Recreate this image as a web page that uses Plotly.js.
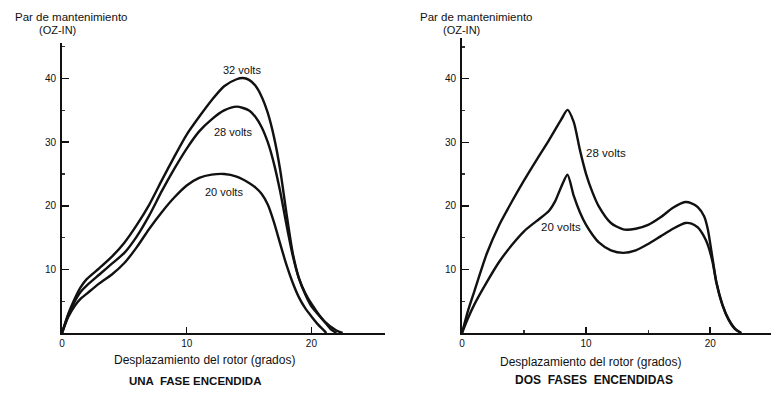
<!DOCTYPE html>
<html>
<head>
<meta charset="utf-8">
<script src="https://cdn.plot.ly/plotly-3.0.1.min.js"></script>
<style>html,body{margin:0;padding:0;background:#fff;}#chart{width:771px;height:394px;}</style>
</head>
<body>
<div id="chart"></div>
<script>
// ---- Data: UNA FASE ENCENDIDA (left) ----
const left32x = [0,0.5,1,1.5,2,3,4,5,6,7,8,9,10,11,12,13,14,14.5,15,15.5,16,16.5,17,17.5,18,18.5,19,19.5,20,21,22,22.5];
const left32y = [0,3.0,5.3,7.2,8.5,10.2,12.0,14.2,17.0,20.2,24.0,27.7,31.2,34.0,36.6,38.8,39.9,40.1,39.8,38.9,37.2,34.6,30.8,25.6,18.8,12.6,8.6,6.3,4.6,1.9,0.4,0];
const left28x = [0,0.5,1,1.5,2,3,4,5,6,7,8,9,10,11,12,13,14,15,15.5,16,16.5,17,17.5,18,18.5,19,19.5,20,21,21.5,22];
const left28y = [0,2.8,4.9,6.5,7.5,9.2,10.9,12.6,15.2,18.5,22.3,25.8,29.0,31.7,33.6,35.0,35.6,35.0,34.0,32.4,30.0,26.6,22.2,17.0,12.2,8.6,6.1,4.2,1.9,0.7,0];
const left20x = [0,0.5,1,1.5,2,3,4,5,6,7,8,9,10,11,12,13,14,15,15.5,16,16.5,17,17.5,18,18.5,19,19.5,20,20.5,21,21.2];
const left20y = [0,2.5,4.2,5.4,6.2,7.8,9.2,11.0,13.5,16.4,19.0,21.3,23.2,24.4,24.9,25.0,24.6,23.6,22.9,21.9,20.2,17.4,14.0,10.7,7.9,5.6,3.9,2.6,1.4,0.4,0];

// ---- Data: DOS FASES ENCENDIDAS (right) ----
const right28x = [0,0.5,1,2,3,4,5,6,7,8,8.5,9,9.5,10,10.5,11,12,13,14,15,16,17,18,18.5,19,19.5,19.8,20.2,20.5,21,21.5,22,22.5];
const right28y = [0,3.6,6.6,12.5,17.0,20.6,24.0,27.2,30.3,33.6,35.1,33.2,28.8,25.0,22.2,20.0,17.3,16.3,16.4,17.0,18.2,19.7,20.6,20.4,19.8,18.4,16.4,11.6,8.0,4.4,2.1,0.7,0];
const right20x = [0,0.5,1,2,3,4,5,6,7,7.5,8,8.5,9,9.5,10,10.5,11,12,13,14,15,16,17,18,18.5,19,19.5,19.8,20.2,20.5,21,21.5,22,22.5];
const right20y = [0,2.4,4.5,8.0,11.2,13.8,16.0,17.6,19.2,20.7,23.0,24.9,21.6,19.0,17.0,15.5,14.3,13.0,12.6,13.0,14.0,15.2,16.4,17.3,17.2,16.6,15.2,13.9,11.1,7.9,4.3,2.0,0.6,0];

const xTickVals = [0,10,20];
const xTickText = ["0","10","20"];
const yTickVals = [10,20,30,40];
const yTickText = ["10","20","30","40"];

const lineStyle = {color:'#111', width:2.4, shape:'spline', smoothing:0.7};
function tr(x,y,xa,ya){return {x:x,y:y,xaxis:xa,yaxis:ya,mode:'lines',line:lineStyle,hoverinfo:'skip',showlegend:false};}

const data = [
  tr(left32x,left32y,'x','y'),
  tr(left28x,left28y,'x','y'),
  tr(left20x,left20y,'x','y'),
  tr(right28x,right28y,'x2','y2'),
  tr(right20x,right20y,'x2','y2')
];

const F = 'Liberation Sans, Arial, sans-serif';
const tickFont = {family:F, size:10, color:'#111'};
function xax(domain, range, minorOn){
  return {domain:domain, range:range, showline:true, linecolor:'#111', linewidth:2,
    showgrid:false, zeroline:false, tickmode:'array', tickvals:xTickVals, ticktext:xTickText,
    ticks:'inside', ticklen:6, tickwidth:1.5, tickcolor:'#111', tickfont:tickFont,
    minor: minorOn ? {tickvals:[5,15], ticks:'inside', ticklen:3, tickwidth:1.2, tickcolor:'#333'} : {ticks:''},
    fixedrange:true};
}
function yax(domain, range, anchor){
  return {domain:domain, range:range, anchor:anchor, showline:true, linecolor:'#111', linewidth:2,
    showgrid:false, zeroline:false, tickmode:'array', tickvals:yTickVals, ticktext:yTickText,
    ticks:'inside', ticklen:7, tickwidth:1.5, tickcolor:'#111', tickfont:tickFont, ticklabelstandoff:2,
    minor:{tickvals:[5,15,25,35,45], ticks:'inside', ticklen:3, tickwidth:1.2, tickcolor:'#333'},
    fixedrange:true};
}

const ann = (text,x,y,xref,yref,size) => ({text:text,x:x,y:y,xref:xref,yref:yref,showarrow:false,
  font:{family:F,size:size||10,color:'#111'},xanchor:'center',yanchor:'middle'});

const layout = {
  width:771, height:394, margin:{l:0,r:0,t:0,b:0}, paper_bgcolor:'#fff', plot_bgcolor:'#fff',
  showlegend:false,
  xaxis: Object.assign(xax([62/771,385/771],[0,25.9],false),{anchor:'y'}),
  yaxis: yax([61/394,351/394],[0,45.6],'x'),
  xaxis2: Object.assign(xax([462/771,1],[0,24.9],true),{anchor:'y2'}),
  yaxis2: yax([61/394,356/394],[0,46.4],'x2'),
  annotations:[
    ann('32 volts',14.4,41.4,'x','y',11),
    ann('28 volts',13.7,31.6,'x','y',11),
    ann('20 volts',13.0,22.2,'x','y',11),
    ann('28 volts',11.6,28.3,'x2','y2',11.5),
    ann('20 volts',8.0,16.7,'x2','y2',11.5),
    ann('Par de mantenimiento',71/771,1-17/394,'paper','paper',11.5),
    ann('(OZ-IN)',57/771,1-30/394,'paper','paper',11),
    ann('Par de mantenimiento',476/771,1-17/394,'paper','paper',11.5),
    ann('(OZ-IN)',461/771,1-30/394,'paper','paper',11),
    ann('Desplazamiento del rotor (grados)',204/771,1-360/394,'paper','paper',12),
    ann('Desplazamiento del rotor (grados)',590/771,1-362/394,'paper','paper',12),
    ann('<b>UNA  FASE ENCENDIDA</b>',195/771,1-381/394,'paper','paper',11.5),
    ann('<b>DOS  FASES  ENCENDIDAS</b>',594/771,1-380/394,'paper','paper',12)
  ]
};

Plotly.newPlot('chart', data, layout, {staticPlot:true, displayModeBar:false});
</script>
</body>
</html>
